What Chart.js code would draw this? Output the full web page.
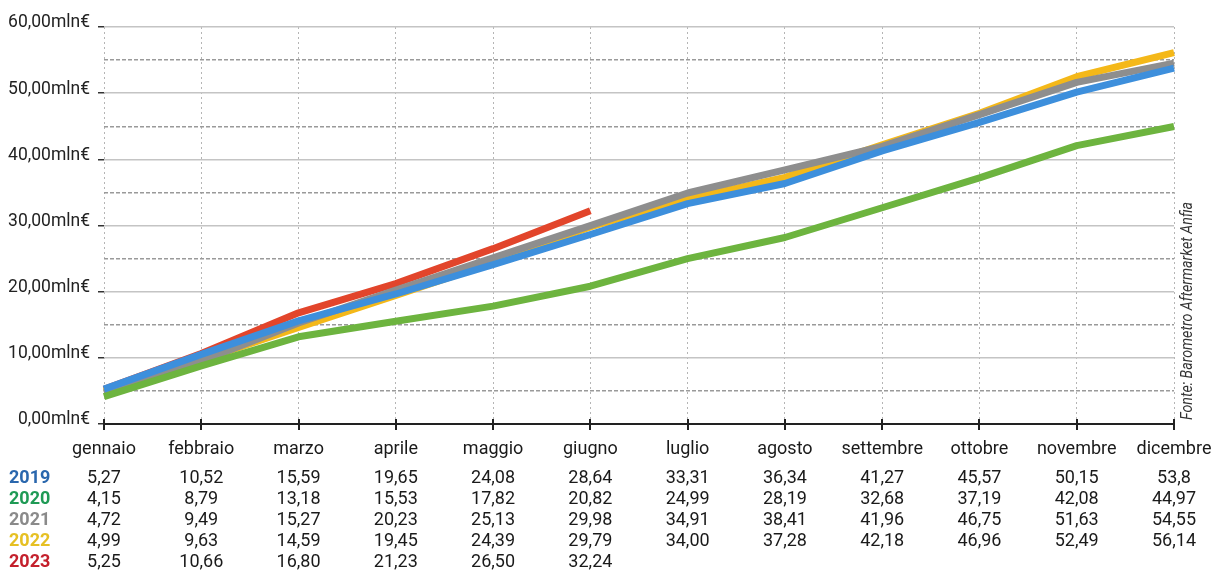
<!DOCTYPE html>
<html>
<head>
<meta charset="utf-8">
<script src="https://cdn.jsdelivr.net/npm/chart.js@4.4.0/dist/chart.umd.min.js"></script>
<style>
  html, body { margin: 0; padding: 0; background: #ffffff; }
  #wrap { width: 1212px; height: 570px; position: relative; }
</style>
</head>
<body>
<div id="wrap"><canvas id="c" width="1212" height="570"></canvas></div>
<script>
// ---- data ----
const months = ['gennaio','febbraio','marzo','aprile','maggio','giugno','luglio','agosto','settembre','ottobre','novembre','dicembre'];
const seriesNames = ['2019','2020','2021','2022','2023'];
const v2019 = ['5,27','10,52','15,59','19,65','24,08','28,64','33,31','36,34','41,27','45,57','50,15','53,8'];
const v2020 = ['4,15','8,79','13,18','15,53','17,82','20,82','24,99','28,19','32,68','37,19','42,08','44,97'];
const v2021 = ['4,72','9,49','15,27','20,23','25,13','29,98','34,91','38,41','41,96','46,75','51,63','54,55'];
const v2022 = ['4,99','9,63','14,59','19,45','24,39','29,79','34,00','37,28','42,18','46,96','52,49','56,14'];
const v2023 = ['5,25','10,66','16,80','21,23','26,50','32,24'];
const yTicks = [0, 10, 20, 30, 40, 50, 60];
const sourceText = 'Fonte: Barometro Aftermarket Anfia';

// ---- styles ----
const lineColors = ['#3d8fdc', '#6db43f', '#8e8e8e', '#f4b819', '#e2452b'];
const labelColors = ['#2a67ad', '#1f9a55', '#8a8a8a', '#e6c023', '#c4202c'];
const allValues = [v2019, v2020, v2021, v2022, v2023];
const toNum = s => parseFloat(s.replace(',', '.'));

Chart.defaults.font.family = 'Roboto, "Liberation Sans", sans-serif';

const tablePlugin = {
  id: 'tablePlugin',
  beforeDatasetsDraw(chart) {
    const ctx = chart.ctx;
    const x = chart.scales.x;
    const area = chart.chartArea;
    ctx.save();
    ctx.strokeStyle = '#222';
    ctx.lineWidth = 2;
    ctx.beginPath();
    ctx.moveTo(area.left, area.bottom);
    ctx.lineTo(area.right, area.bottom);
    ctx.stroke();
    for (let i = 0; i < months.length; i++) {
      const px = Math.round(x.getPixelForValue(i));
      ctx.beginPath();
      ctx.moveTo(px, area.bottom - 5);
      ctx.lineTo(px, area.bottom + 6);
      ctx.stroke();
    }
    ctx.restore();
  },
  afterDraw(chart) {
    const ctx = chart.ctx;
    const x = chart.scales.x;
    ctx.save();
    ctx.textBaseline = 'middle';
    for (let r = 0; r < allValues.length; r++) {
      const y = 478 + r * 21;
      ctx.font = 'bold 18px Roboto, sans-serif';
      ctx.fillStyle = labelColors[r];
      ctx.textAlign = 'left';
      ctx.fillText(seriesNames[r], 9, y);
      ctx.font = '18px Roboto, sans-serif';
      ctx.fillStyle = '#1a1a1a';
      ctx.textAlign = 'center';
      allValues[r].forEach((s, i) => {
        ctx.fillText(s, x.getPixelForValue(i), y);
      });
    }
    ctx.translate(1188, 311);
    ctx.rotate(-Math.PI / 2);
    ctx.font = 'italic 16px Roboto, sans-serif';
    const w = ctx.measureText(sourceText).width;
    ctx.scale(218 / w, 1);
    ctx.fillStyle = '#333';
    ctx.textAlign = 'center';
    ctx.textBaseline = 'middle';
    ctx.fillText(sourceText, 0, 0);
    ctx.restore();
  }
};

new Chart(document.getElementById('c'), {
  type: 'line',
  data: {
    labels: months,
    datasets: allValues.map((vals, i) => ({
      label: seriesNames[i],
      data: vals.map(toNum),
      borderColor: lineColors[i],
      backgroundColor: lineColors[i],
      borderWidth: 7,
      pointRadius: 0,
      pointHoverRadius: 0,
      tension: 0,
      fill: false,
      borderCapStyle: 'butt',
      borderJoinStyle: 'round'
    }))
  },
  options: {
    responsive: false,
    animation: false,
    events: [],
    layout: { padding: { left: 0, right: 0, top: 27, bottom: 0 } },
    plugins: { legend: { display: false }, title: { display: false }, tooltip: { enabled: false } },
    scales: {
      x: {
        offset: false,
        grid: { color: '#b5b5b5', lineWidth: 1, drawTicks: false },
        border: { display: false, dash: [2, 3] },
        ticks: { color: '#1a1a1a', font: { size: 18 }, padding: 15, maxRotation: 0, autoSkip: false },
        afterFit: s => { s.height = 146; s.paddingRight = 38; }
      },
      y: {
        min: 0, max: 60,
        afterBuildTicks: s => { s.ticks = yTicks.map(v => ({ value: v })); },
        grid: { color: '#c4c4c4', lineWidth: 1.5, drawTicks: true, tickLength: 6, tickColor: '#333', tickWidth: 1.5 },
        border: { display: false },
        ticks: {
          color: '#222', font: { size: 17.5 }, padding: 8, labelOffset: -4,
          callback: v => v.toFixed(2).replace('.', ',') + 'mln€'
        },
        afterFit: s => { s.width = 104; }
      },
      y5: {
        position: 'left',
        min: 0, max: 60,
        ticks: { display: false, stepSize: 5 },
        grid: {
          drawTicks: false, lineWidth: 1.5,
          color: c => (c.tick && c.tick.value % 10 !== 0) ? '#9a9a9a' : 'rgba(0,0,0,0)'
        },
        border: { display: false, dash: [4, 2] },
        afterFit: s => { s.width = 0; }
      }
    }
  },
  plugins: [tablePlugin]
});
</script>
</body>
</html>
